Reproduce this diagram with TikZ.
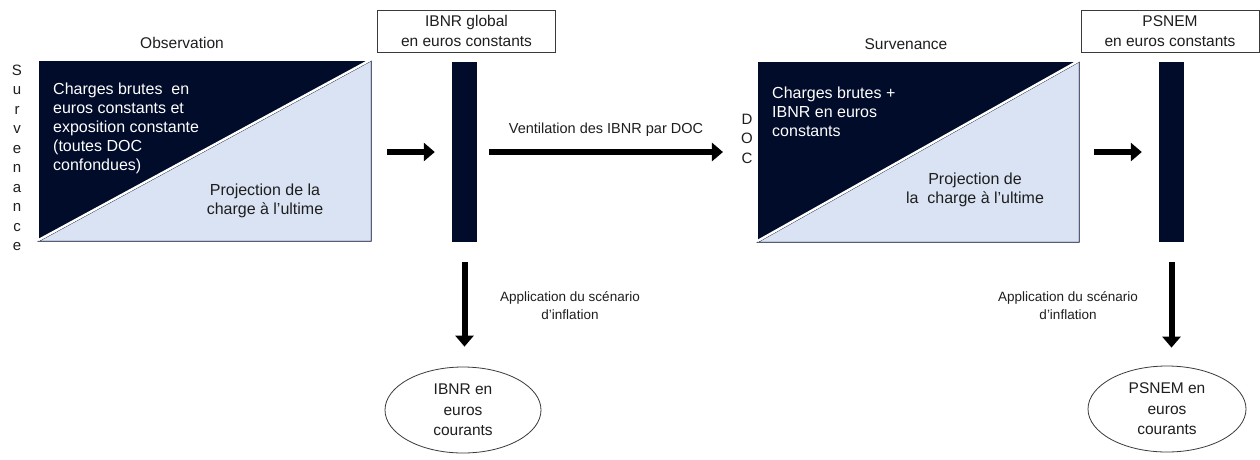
\documentclass[tikz,border=0pt]{standalone}
\usepackage{fontspec}
\setmainfont{Liberation Sans}
\usetikzlibrary{arrows.meta,shapes.geometric}
\definecolor{navy}{HTML}{010B2A}
\definecolor{pale}{HTML}{DAE3F3}
\definecolor{edge}{HTML}{3A3A3A}
\definecolor{ink}{HTML}{1E1E1E}
\begin{document}
\begin{tikzpicture}[x=1pt,y=-1pt,
  lbl/.style={font=\fontsize{15.5}{19}\selectfont, inner sep=0pt, text=ink},
  body/.style={font=\fontsize{16}{19}\selectfont, inner sep=0pt},
  small/.style={font=\fontsize{13.5}{18}\selectfont, inner sep=0pt, align=center, text=ink},
  bar/.style={fill=navy, draw=none, minimum width=25pt, minimum height=180pt, inner sep=0pt},
  titlebox/.style={draw=edge, line width=0.8pt, minimum width=178pt, minimum height=42pt, align=center, inner sep=0pt, text=ink, font=\fontsize{15.5}{20}\selectfont},
  bigarrow/.style={line width=6pt, -{Triangle[length=11pt,width=18pt]}},
  oval/.style={ellipse, draw=edge, line width=0.8pt, fill=white, minimum width=156pt, minimum height=86pt, align=center, inner sep=0pt, text=ink, font=\fontsize{15.5}{20.5}\selectfont},
  block/.style={minimum width=#1, minimum height=180pt, inner sep=0pt, draw=none},
  vert/.style={font=\fontsize{15}{19.5}\selectfont, inner sep=0pt, align=center, text=ink},
]
\fill[white] (0,0) rectangle (1260,459);
\useasboundingbox (0,0) rectangle (1260,459);

% ---------- left block ----------
\node[block=332pt] (rectL) at (205,151) {};
\fill[navy] (rectL.north west) rectangle (rectL.south east);
\filldraw[fill=pale, draw=navy, line width=0.8pt] (rectL.south west) -- (rectL.north east) -- (rectL.south east) -- cycle;
\draw[white, line width=2.4pt] ([yshift=1.3pt]rectL.south west) -- ([yshift=1.3pt]rectL.north east);
\node[lbl] (obs) at (182,43) {Observation};
\node[vert] (survL) at (17,158) {S\\u\\r\\v\\e\\n\\a\\n\\c\\e};
\node[body, text=white, align=left, anchor=west] (txtL) at (53,128.5) {Charges brutes\ \ en\\euros constants et\\exposition constante\\(toutes DOC\\confondues)};
\node[body, text=ink, align=center] (projL) at (265,201) {Projection de la\\charge à l’ultime};

% ---------- IBNR global ----------
\node[titlebox] (ibnrbox) at (466.5,31) {IBNR global\\en euros constants};
\node[bar] (barL) at (464.5,152) {};

% ---------- right block ----------
\node[block=321pt] (rectR) at (918.5,152) {};
\fill[navy] (rectR.north west) rectangle (rectR.south east);
\filldraw[fill=pale, draw=navy, line width=0.8pt] (rectR.south west) -- (rectR.north east) -- (rectR.south east) -- cycle;
\draw[white, line width=2.4pt] ([yshift=1.3pt]rectR.south west) -- ([yshift=1.3pt]rectR.north east);
\node[lbl] (survR) at (906,44) {Survenance};
\node[vert] (doc) at (747,138.5) {D\\O\\C};
\node[body, text=white, align=left, anchor=west] (txtR) at (772,112) {Charges brutes +\\IBNR en euros\\constants};
\node[body, text=ink, align=center] (projR) at (975,190) {Projection de\\la\ \ charge à l’ultime};

% ---------- PSNEM ----------
\node[titlebox] (psnembox) at (1170,31) {PSNEM\\en euros constants};
\node[bar] (barR) at (1171.5,152) {};

% ---------- ellipses ----------
\node[oval] (ellL) at (463,410) {IBNR en\\euros\\courants};
\node[oval, minimum width=158pt] (ellR) at (1167,409) {PSNEM en\\euros\\courants};

% ---------- arrows ----------
\draw[bigarrow, shorten <=16pt, shorten >=17pt] (barL.west -| rectL.east) -- (barL.west);
\draw[bigarrow, shorten <=12pt, shorten >=18pt] (barL.east) -- (barL.east -| doc.west);
\draw[bigarrow, shorten <=15pt, shorten >=17pt] (barR.west -| rectR.east) -- (barR.west);
\draw[bigarrow, shorten <=20pt, shorten >=20pt] (barL.south) -- (barL.south |- ellL.north);
\draw[bigarrow, shorten <=20pt, shorten >=18pt] (barR.south) -- (barR.south |- ellR.north);

% ---------- arrow labels ----------
\node[small, font=\fontsize{14.5}{18}\selectfont] (vent) at (606,130) {Ventilation des IBNR par DOC};
\node[small] (appL) at (570,306) {Application du scénario\\d’inflation};
\node[small] (appR) at (1068,306) {Application du scénario\\d’inflation};
\end{tikzpicture}
\end{document}
